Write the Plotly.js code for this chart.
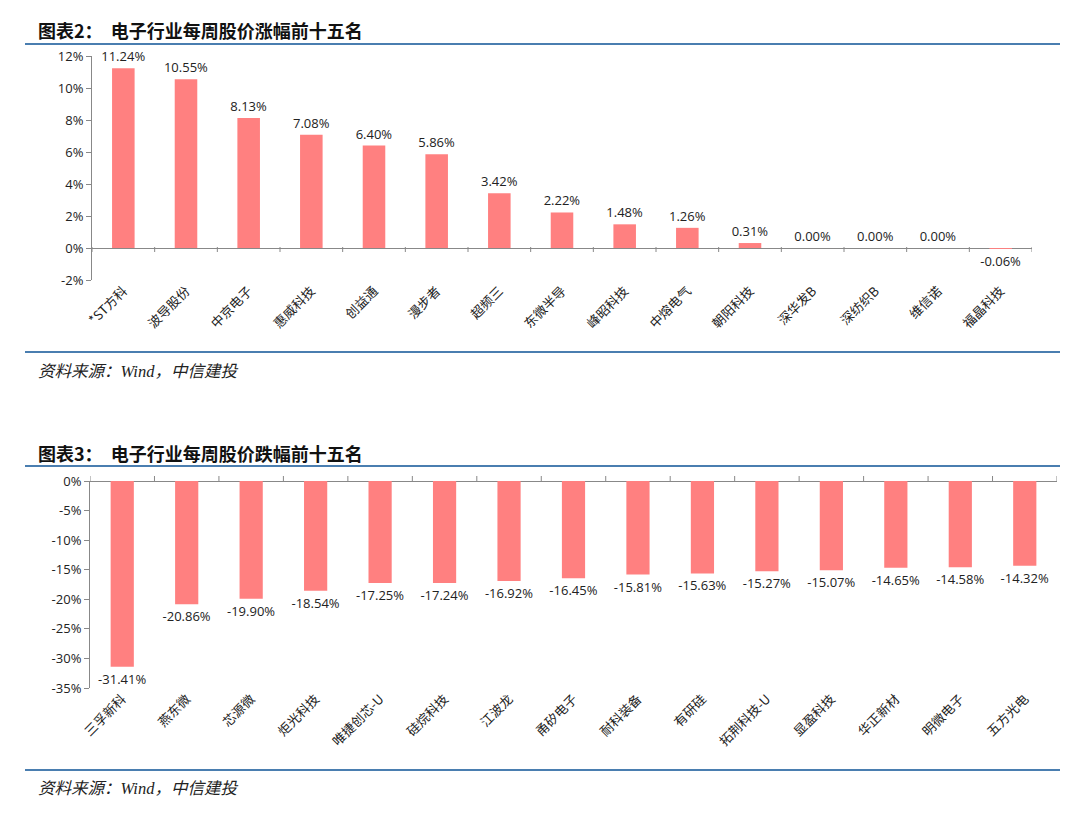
<!DOCTYPE html>
<html><head><meta charset="utf-8">
<script src="https://cdn.plot.ly/plotly-3.0.1.min.js"></script>
<style>html,body{margin:0;padding:0;background:#fff}#c{width:1080px;height:814px}</style>
</head><body><div id="c"></div>
<script>
const topCats = ['*ST方科','波导股份','中京电子','惠威科技','创益通','漫步者','超频三','东微半导','峰昭科技','中熔电气','朝阳科技','深华发B','深纺织B','维信诺','福晶科技'];
const topVals = [11.24,10.55,8.13,7.08,6.40,5.86,3.42,2.22,1.48,1.26,0.31,0.00,0.00,0.00,-0.06];
const botCats = ['三孚新科','燕东微','芯源微','炬光科技','唯捷创芯-U','硅烷科技','江波龙','甬矽电子','耐科装备','有研硅','拓荆科技-U','显盈科技','华正新材','明微电子','五方光电'];
const botVals = [-31.41,-20.86,-19.90,-18.54,-17.25,-17.24,-16.92,-16.45,-15.81,-15.63,-15.27,-15.07,-14.65,-14.58,-14.32];
const topTicks = [-2,0,2,4,6,8,10,12];
const topTickText = ['-2%','0%','2%','4%','6%','8%','10%','12%'];
const botTicks = [-35,-30,-25,-20,-15,-10,-5,0];
const botTickText = ['-35%','-30%','-25%','-20%','-15%','-10%','-5%','0%'];

const W=1080,H=814;
const px=v=>v/W, py=v=>1-v/H;
const barColor='#FF8080';
const numFont={family:'Open Sans, DejaVu Sans, sans-serif',size:13,color:'#222'};
const catFont={family:'Noto Sans CJK SC, sans-serif',size:13,color:'#222'};

const traces=[
 {type:'bar',x:topCats,y:topVals,xaxis:'x',yaxis:'y',marker:{color:barColor},width:0.36,
  text:topVals.map(v=>v.toFixed(2)+'%'),textposition:'outside',textfont:numFont,constraintext:'none',cliponaxis:false,hoverinfo:'none'},
 {type:'bar',x:botCats,y:botVals,xaxis:'x2',yaxis:'y2',marker:{color:barColor},width:0.36,
  text:botVals.map(v=>v.toFixed(2)+'%'),textposition:'outside',textfont:numFont,constraintext:'none',cliponaxis:false,hoverinfo:'none'}
];

const lineC='#4A7EB0';
const shapes=[
 {type:'line',xref:'paper',yref:'paper',x0:px(25),x1:px(1060),y0:py(44),y1:py(44),line:{color:lineC,width:2}},
 {type:'line',xref:'paper',yref:'paper',x0:px(25),x1:px(1060),y0:py(352),y1:py(352),line:{color:lineC,width:2}},
 {type:'line',xref:'paper',yref:'paper',x0:px(25),x1:px(1060),y0:py(466),y1:py(466),line:{color:lineC,width:2}},
 {type:'line',xref:'paper',yref:'paper',x0:px(25),x1:px(1060),y0:py(770),y1:py(770),line:{color:lineC,width:2}}
];
for(let i=0;i<=topCats.length;i++){
 shapes.push({type:'line',xref:'x',yref:'paper',x0:i-0.5,x1:i-0.5,y0:py(247),y1:py(252),line:{color:'#888',width:1}});
}
for(let i=0;i<=botCats.length;i++){
 shapes.push({type:'line',xref:'x2',yref:'paper',x0:i-0.5,x1:i-0.5,y0:py(481),y1:py(476),line:{color:'#888',width:1}});
}

const titleFont={family:'Noto Sans CJK SC, sans-serif',size:18,color:'#111',weight:'bold'};
const srcFont={family:'Liberation Serif, Noto Sans CJK SC, serif',size:16.5,color:'#222',style:'italic'};
const gap='\u00a0\u00a0';
const annotations=[
 {xref:'paper',yref:'paper',x:px(36),y:py(30),xanchor:'left',yanchor:'middle',showarrow:false,text:'<b>图表2：'+gap+'电子行业每周股价涨幅前十五名</b>',font:titleFont},
 {xref:'paper',yref:'paper',x:px(36),y:py(453),xanchor:'left',yanchor:'middle',showarrow:false,text:'<b>图表3：'+gap+'电子行业每周股价跌幅前十五名</b>',font:titleFont},
 {xref:'paper',yref:'paper',x:px(36),y:py(371),xanchor:'left',yanchor:'middle',showarrow:false,text:'<i>资料来源：Wind，中信建投</i>',font:srcFont},
 {xref:'paper',yref:'paper',x:px(36),y:py(788),xanchor:'left',yanchor:'middle',showarrow:false,text:'<i>资料来源：Wind，中信建投</i>',font:srcFont}
];

const layout={
 width:W,height:H,margin:{l:0,r:0,t:0,b:0},paper_bgcolor:'#fff',plot_bgcolor:'#fff',showlegend:false,
 xaxis:{domain:[px(92),px(1032)],anchor:'y',type:'category',tickangle:-45,tickfont:catFont,showline:false,showgrid:false,ticks:'',range:[-0.5,14.5]},
 yaxis:{domain:[py(280),py(56)],anchor:'x',range:[-2,12],tickvals:topTicks,ticktext:topTickText,tickfont:numFont,showgrid:false,
   showline:true,linecolor:'#888',linewidth:1,ticks:'outside',ticklen:5,tickcolor:'#888',zeroline:true,zerolinecolor:'#888',zerolinewidth:1},
 xaxis2:{domain:[px(90),px(1057)],anchor:'y2',type:'category',tickangle:-45,tickfont:catFont,showline:false,showgrid:false,ticks:'',range:[-0.5,14.5]},
 yaxis2:{domain:[py(688),py(481)],anchor:'x2',range:[-35,0],tickvals:botTicks,ticktext:botTickText,tickfont:numFont,showgrid:false,
   showline:true,linecolor:'#888',linewidth:1,ticks:'outside',ticklen:5,tickcolor:'#888',zeroline:true,zerolinecolor:'#888',zerolinewidth:1},
 shapes:shapes,annotations:annotations
};
Plotly.newPlot('c',traces,layout,{staticPlot:true});
</script></body></html>
